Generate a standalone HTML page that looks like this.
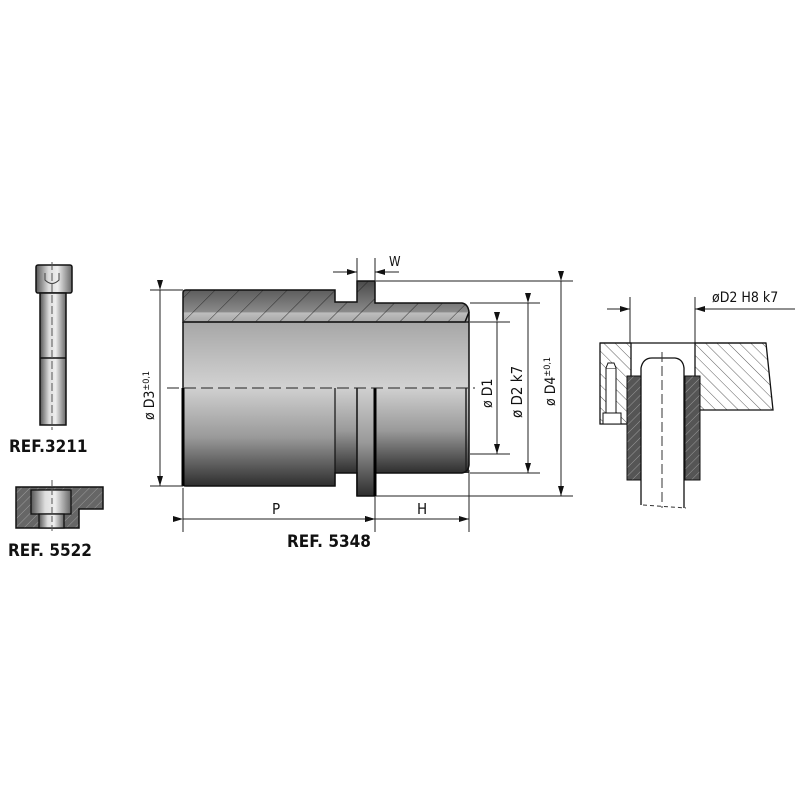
<!DOCTYPE html>
<html><head><meta charset="utf-8"><style>
html,body{margin:0;padding:0;background:#fff;}
svg{display:block;}
text{font-family:"DejaVu Sans Condensed","Liberation Sans",sans-serif;fill:#111;}
</style></head><body>
<svg width="800" height="800" viewBox="0 0 800 800" xmlns="http://www.w3.org/2000/svg">
<defs>
<pattern id="h1" patternUnits="userSpaceOnUse" width="17" height="17" patternTransform="rotate(45)">
<rect width="17" height="17" fill="none"/><line x1="0" y1="0" x2="0" y2="17" stroke="#222" stroke-width="0.9"/></pattern>
<pattern id="h2" patternUnits="userSpaceOnUse" width="8" height="8" patternTransform="rotate(-45)">
<line x1="0" y1="0" x2="0" y2="8" stroke="#333" stroke-width="0.8"/></pattern>
<pattern id="h3" patternUnits="userSpaceOnUse" width="6" height="6" patternTransform="rotate(45)">
<line x1="0" y1="0" x2="0" y2="6" stroke="#aaa" stroke-width="0.8"/></pattern>
<linearGradient id="wall" x1="0" y1="0" x2="0" y2="1"><stop offset="0" stop-color="#4a4a4a"/><stop offset="0.75" stop-color="#8a8a8a"/><stop offset="0.78" stop-color="#bdbdbd"/><stop offset="1" stop-color="#a8a8a8"/></linearGradient>
<linearGradient id="upper" x1="0" y1="0" x2="0" y2="1"><stop offset="0" stop-color="#8c8c8c"/><stop offset="1" stop-color="#d2d2d2"/></linearGradient>
<linearGradient id="lower" x1="0" y1="0" x2="0" y2="1"><stop offset="0" stop-color="#d0d0d0"/><stop offset="0.5" stop-color="#9a9a9a"/><stop offset="1" stop-color="#2e2e2e"/></linearGradient>
<linearGradient id="cyl" x1="0" y1="0" x2="1" y2="0"><stop offset="0" stop-color="#555"/><stop offset="0.35" stop-color="#ddd"/><stop offset="0.6" stop-color="#eee"/><stop offset="1" stop-color="#666"/></linearGradient>
<marker id="ar" markerWidth="10" markerHeight="6" refX="10" refY="3" orient="auto" markerUnits="userSpaceOnUse"><path d="M0,0 L10,3 L0,6z" fill="#111"/></marker>
</defs>

<!-- ===== Main part REF 5348 ===== -->
<!-- upper half body -->
<path d="M183,293 Q183,290 186,290 L335,290 L335,302 L357,302 L357,281 L375,281 L375,303 L462,303 Q468,304 469,312 L469,388 L183,388 Z" fill="url(#upper)"/>
<!-- wall (hatched region) -->
<path d="M183,293 Q183,290 186,290 L335,290 L335,302 L357,302 L357,281 L375,281 L375,303 L462,303 Q468,304 469,312 L465,322 L183,322 Z" fill="url(#wall)"/>
<path d="M183,293 Q183,290 186,290 L335,290 L335,302 L357,302 L357,281 L375,281 L375,303 L462,303 Q468,304 469,312 L465,322 L183,322 Z" fill="url(#h1)" stroke="#111" stroke-width="1.5"/>
<line x1="183" y1="322" x2="469" y2="322" stroke="#222" stroke-width="1.5"/>
<!-- lower half body -->
<rect x="183" y="388" width="152" height="98" fill="url(#lower)"/>
<rect x="335" y="388" width="22" height="85" fill="url(#lower)"/>
<rect x="357" y="388" width="18" height="108" fill="url(#lower)"/>
<rect x="375" y="388" width="94" height="85" fill="url(#lower)"/>
<path d="M183,322 L183,484 Q183,486 186,486 L335,486 L335,473 L357,473 L357,496 L375,496 L375,473 L462,473 Q468,472 469,465 L469,312" fill="none" stroke="#111" stroke-width="1.5"/>
<line x1="183" y1="388" x2="183" y2="486" stroke="#000" stroke-width="3"/>
<line x1="335" y1="388" x2="335" y2="486" stroke="#111" stroke-width="1.2"/>
<line x1="357" y1="388" x2="357" y2="496" stroke="#111" stroke-width="1.5"/>
<line x1="375" y1="388" x2="375" y2="496" stroke="#000" stroke-width="3"/>
<line x1="466" y1="388" x2="466" y2="470" stroke="#222" stroke-width="1.5"/>
<!-- centerline -->
<line x1="167" y1="388" x2="475" y2="388" stroke="#222" stroke-width="1" stroke-dasharray="12,5"/>
<!-- dimensions -->
<g stroke="#222" stroke-width="1" fill="none">
<line x1="150" y1="290" x2="183" y2="290"/><line x1="150" y1="486" x2="183" y2="486"/>
<line x1="160" y1="290" x2="160" y2="486" marker-start="url(#ar)" marker-end="url(#ar)"/>
<line x1="470" y1="322" x2="510" y2="322"/><line x1="470" y1="454" x2="510" y2="454"/>
<line x1="497" y1="322" x2="497" y2="454" marker-start="url(#ar)" marker-end="url(#ar)"/>
<line x1="470" y1="303" x2="540" y2="303"/><line x1="470" y1="473" x2="540" y2="473"/>
<line x1="528" y1="303" x2="528" y2="473" marker-start="url(#ar)" marker-end="url(#ar)"/>
<line x1="376" y1="281" x2="573" y2="281"/><line x1="376" y1="496" x2="573" y2="496"/>
<line x1="561" y1="281" x2="561" y2="496" marker-start="url(#ar)" marker-end="url(#ar)"/>
<line x1="183" y1="488" x2="183" y2="532"/><line x1="375" y1="496" x2="375" y2="532"/><line x1="469" y1="470" x2="469" y2="532"/>
<line x1="183" y1="519" x2="375" y2="519" marker-start="url(#ar)" marker-end="url(#ar)"/>
<line x1="375" y1="519" x2="469" y2="519" marker-start="url(#ar)" marker-end="url(#ar)"/>
<line x1="357" y1="258" x2="357" y2="281"/><line x1="375" y1="258" x2="375" y2="281"/>
<line x1="333" y1="272" x2="357" y2="272" marker-end="url(#ar)"/>
<line x1="399" y1="272" x2="375" y2="272" marker-end="url(#ar)"/>
</g>
<text x="389" y="266" font-size="13">W</text>
<text x="272" y="514" font-size="15">P</text>
<text x="417" y="514" font-size="15">H</text>
<text x="287" y="547" font-size="17" font-weight="bold">REF. 5348</text>
<text transform="translate(154,420) rotate(-90)" font-size="14">ø D3<tspan font-size="9" dy="-5">±0,1</tspan></text>
<text transform="translate(492,408) rotate(-90)" font-size="14">ø D1</text>
<text transform="translate(522,418) rotate(-90)" font-size="15">ø D2 k7</text>
<text transform="translate(555,406) rotate(-90)" font-size="14">ø D4<tspan font-size="9" dy="-5">±0,1</tspan></text>

<!-- ===== Right assembly ===== -->
<g stroke="#222" stroke-width="1" fill="none">
<line x1="607" y1="309" x2="630" y2="309" marker-end="url(#ar)"/>
<line x1="795" y1="309" x2="695" y2="309" marker-end="url(#ar)"/>
<line x1="630" y1="297" x2="630" y2="343"/><line x1="695" y1="297" x2="695" y2="343"/>
</g>
<text x="712" y="302" font-size="14">øD2  H8  k7</text>
<!-- left block -->
<path d="M600,343 L631,343 L631,424 L600,424 Z" fill="url(#h2)" stroke="#111" stroke-width="1.3"/>
<!-- right plate -->
<path d="M695,343 L766,343 L773,410 L698,410 L695,406 Z" fill="url(#h2)" stroke="#111" stroke-width="1.3"/>
<line x1="600" y1="343" x2="766" y2="343" stroke="#111" stroke-width="1.3"/>
<!-- screw in block -->
<rect x="606" y="368" width="10" height="46" fill="#fff" stroke="#111" stroke-width="1"/>
<path d="M606,368 L608,363 L614,363 L616,368" fill="#fff" stroke="#111"/>
<rect x="603" y="413" width="18" height="11" fill="#fff" stroke="#111"/>
<!-- bushing -->
<rect x="627" y="376" width="14" height="104" fill="#555"/>
<rect x="627" y="376" width="14" height="104" fill="url(#h3)" stroke="#111"/>
<rect x="685" y="376" width="15" height="104" fill="#555"/>
<rect x="685" y="376" width="15" height="104" fill="url(#h3)" stroke="#111"/>
<!-- pin -->
<path d="M641,505 L641,368 Q643,358 652,358 L675,358 Q683,359 684,368 L684,508" fill="#fff" stroke="#111" stroke-width="1.3"/>
<line x1="643" y1="505" x2="686" y2="508" stroke="#333" stroke-dasharray="4,3"/>
<line x1="662" y1="352" x2="662" y2="508" stroke="#333" stroke-dasharray="10,4"/>

<!-- ===== REF 3211 screw ===== -->
<rect x="36" y="265" width="36" height="28" rx="2" fill="url(#cyl)" stroke="#111" stroke-width="1.5"/>
<rect x="40" y="293" width="26" height="132" fill="url(#cyl)" stroke="#111" stroke-width="1.5"/>
<line x1="40" y1="358" x2="66" y2="358" stroke="#111" stroke-width="1.5"/>
<line x1="52" y1="262" x2="52" y2="430" stroke="#555" stroke-dasharray="8,3"/>
<path d="M45,273 L45,280 Q52,287 59,280 L59,273" fill="none" stroke="#444"/>
<text x="9" y="452" font-size="17" font-weight="bold">REF.3211</text>

<!-- ===== REF 5522 washer ===== -->
<path d="M16,487 L103,487 L103,509 L79,509 L79,528 L16,528 Z" fill="#666"/>
<path d="M16,487 L103,487 L103,509 L79,509 L79,528 L16,528 Z" fill="url(#h3)" stroke="#111" stroke-width="1.5"/>
<rect x="31" y="490" width="40" height="24" fill="url(#cyl)" stroke="#111" stroke-width="1.3"/>
<rect x="39" y="514" width="25" height="14" fill="url(#cyl)" stroke="#111" stroke-width="1.3"/>
<line x1="52" y1="480" x2="52" y2="533" stroke="#555" stroke-dasharray="6,3"/>
<text x="8" y="556" font-size="17" font-weight="bold">REF. 5522</text>
</svg>
</body></html>
